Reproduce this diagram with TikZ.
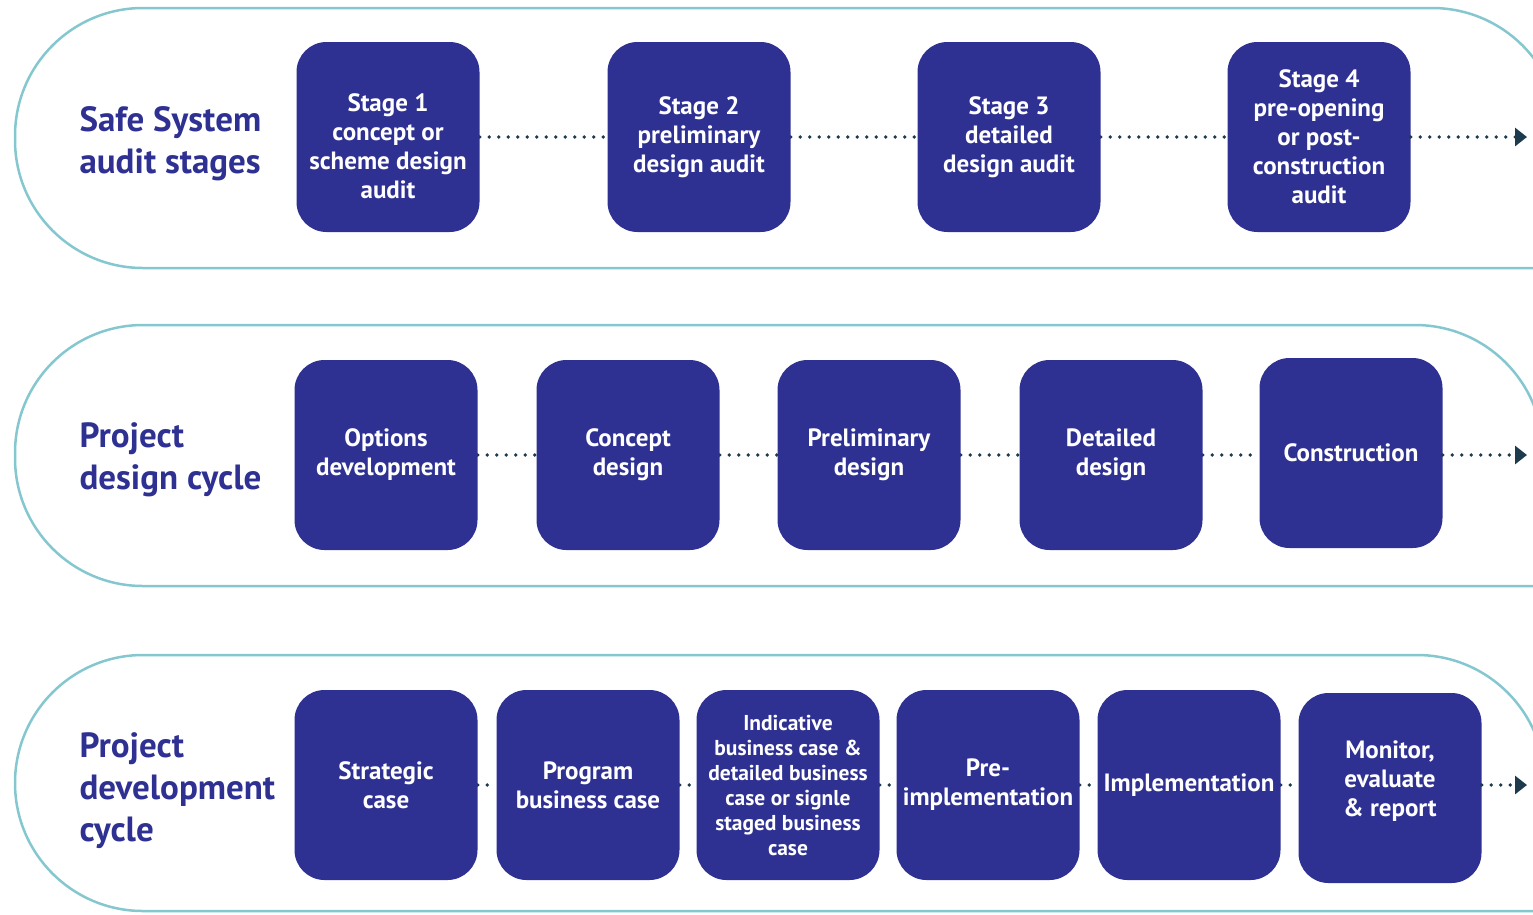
\documentclass[tikz,border=0pt]{standalone}
\usepackage{fontspec}
\setmainfont{PT Sans}
\usetikzlibrary{arrows.meta,backgrounds}
\definecolor{boxblue}{HTML}{2E3192}
\definecolor{bandline}{HTML}{85C7CF}
\definecolor{dotcol}{HTML}{1D3B4C}
\begin{document}
\begin{tikzpicture}[x=1pt,y=-1pt,
    stagebox/.style={fill=boxblue,rounded corners=30pt,minimum width=183pt,minimum height=190pt,
        inner sep=2pt,text=white,align=center,font=\fontsize{25}{29}\selectfont\bfseries},
    rowlabel/.style={anchor=west,align=left,text=boxblue,font=\fontsize{35}{42}\selectfont\bfseries},
    band/.style={draw=bandline,line width=2.5pt,rounded corners=128pt},
    dots/.style={dotcol,line width=3.8pt,line cap=round,dash pattern=on 0pt off 9.5pt},
    lastdots/.style={dots,-{Triangle[length=12pt,width=18pt]}}]
    \useasboundingbox (0,0) rectangle (1533,914);
    \clip (0,0) rectangle (1533,914);
    % bands
    \draw[band] (1600,268) -- (15,268) -- (15,8)   -- (1560,8)   -- (1560,500);
    \draw[band] (1600,586) -- (15,586) -- (15,325) -- (1543,325) -- (1543,800);
    \draw[band] (1600,911) -- (15,911) -- (15,655) -- (1545,655) -- (1545,1100);
    % row 1
    \node[rowlabel] (lab1) at (76,144) {Safe System\\audit stages};
    \node[stagebox] (s1) at (388,137)  {\vphantom{S}\\[-10pt]Stage 1\\concept or\\scheme design\\audit};
    \node[stagebox] (s2) at (699,137)  {Stage 2\\preliminary\\design audit};
    \node[stagebox] (s3) at (1009,137) {Stage 3\\detailed\\design audit};
    \node[stagebox] (s4) at (1319,137) {Stage 4\\pre-opening\\or post-\\construction\\audit};
    \coordinate (e1) at (1527,137);
    % row 2
    \node[rowlabel] (lab2) at (76,460) {Project\\design cycle};
    \node[stagebox] (d1) at (386,455)  {Options\\development};
    \node[stagebox] (d2) at (628,455)  {Concept\\design};
    \node[stagebox] (d3) at (869,455)  {Preliminary\\design};
    \node[stagebox] (d4) at (1111,455) {Detailed\\design};
    \node[stagebox] (d5) at (1351,453) {Construction};
    \coordinate (e2) at (1527,455);
    % row 3
    \node[rowlabel] (lab3) at (76,791) {Project\\development\\cycle};
    \node[stagebox] (p1) at (386,785)  {Strategic\\case};
    \node[stagebox] (p2) at (588,785)  {Program\\business case};
    \node[stagebox,font=\fontsize{21.5}{25}\selectfont\bfseries] (p3) at (788,785)
        {Indicative\\business case \&\\detailed business\\case or signle\\staged business\\case};
    \node[stagebox] (p4) at (988,785)  {Pre-\\implementation};
    \node[stagebox] (p5) at (1189,785) {Implementation};
    \node[stagebox] (p6) at (1390,788) {Monitor,\\evaluate\\\& report\\[-10pt]\vphantom{S}};
    \coordinate (e3) at (1527,785);
    % connectors
    \begin{scope}[on background layer]
        \draw[dots] (s1.east) -- (s2.west);
        \draw[dots] (s2.east) -- (s3.west);
        \draw[dots] (s3.east) -- (s4.west);
        \draw[dots] (d1.east) -- (d2.west);
        \draw[dots] (d2.east) -- (d3.west);
        \draw[dots] (d3.east) -- (d4.west);
        \draw[dots] (d4.east) -- (d5.west |- d4.east);
        \foreach \a/\b in {p1/p2,p2/p3,p3/p4,p4/p5,p5/p6}
            \draw[dots] (\a.east) -- (\b.west |- \a.east);
    \end{scope}
    \draw[lastdots] (s4.east) -- (e1);
    \draw[lastdots] (d5.east |- e2) -- (e2);
    \draw[lastdots] (p6.east |- e3) -- (e3);
\end{tikzpicture}
\end{document}
